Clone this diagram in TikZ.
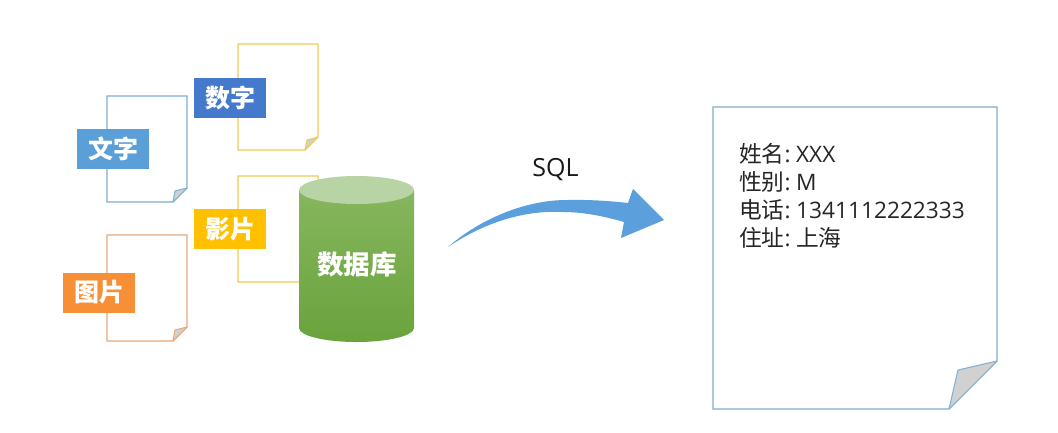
\documentclass[tikz,border=0pt]{standalone}
\usepackage{fontspec}
\setmainfont{Open Sans}
\newfontfamily\cjk{Noto Sans CJK SC}
\usetikzlibrary{shadings}
\definecolor{pgblue}{HTML}{7FAFD3}
\definecolor{pgyellow}{HTML}{F1CB50}
\definecolor{pgorange}{HTML}{E9A772}
\definecolor{arrowblue}{HTML}{5B9FDC}
\definecolor{tagsky}{HTML}{5B9FD9}
\definecolor{tagblue}{HTML}{4579CC}
\definecolor{taggold}{HTML}{FFC000}
\definecolor{tagorange}{HTML}{F68F35}
\definecolor{cyltop}{HTML}{B8D3A4}
\definecolor{cylhigh}{HTML}{86B65E}
\definecolor{cyllow}{HTML}{6AA33C}
\tikzset{
  x=1pt,y=-1pt,
  paper/.style={fill=white,line width=1.2pt,line join=miter},
  foldflap/.style={fill=black!18,line width=1pt,line join=round},
  tag/.style={minimum width=72pt,minimum height=40pt,inner sep=0pt,text=white,font=\fontsize{25}{25}\selectfont\cjk\bfseries},
  record/.style={anchor=west,inner sep=0pt,text=black!85,font=\fontsize{22.7}{24}\selectfont},
}
\newcommand{\recsep}{:\hspace{5.5pt}}
\newcommand{\taglabel}[1]{\raisebox{1.2pt}{#1}}
% #1 colour, #2 left, #3 top, #4 width, #5 height, #6 fold size, #7 flap x offset, #8 flap y offset
\newcommand{\docpage}[8]{%
  \draw[paper,draw=#1] (#2,#3) -- (#2+#4,#3) -- (#2+#4,#3+#5-#6) -- (#2+#4-#6,#3+#5) -- (#2,#3+#5) -- cycle;
  \draw[foldflap,draw=#1] (#2+#4,#3+#5-#6) -- (#2+#4-#6+#7,#3+#5-#6+#8) -- (#2+#4-#6,#3+#5) -- cycle;
}
\begin{document}
\begin{tikzpicture}
\useasboundingbox (0,0) rectangle (1058,432);
\fill[white] (0,0) rectangle (1058,432);
% small pages
\docpage{pgyellow}{238}{44}{80}{106}{13}{2}{3}
\docpage{pgblue}{107}{96}{80}{106}{14}{2}{3}
\docpage{pgyellow}{238}{176}{80}{106}{13}{2}{3}
\docpage{pgorange}{107}{235}{80}{106}{14}{2}{3}
% tags
\node[tag,fill=tagsky] (wenzi) at (113,149) {\taglabel{文字}};
\node[tag,fill=tagblue] (shuzi) at (230,97.5) {\taglabel{数字}};
\node[tag,fill=taggold] (yingpian) at (230,229) {\taglabel{影片}};
\node[tag,fill=tagorange] (tupian) at (99,292.5) {\taglabel{图片}};
% cylinder soft shadow
\foreach \g in {5,3,1.5}{
  \fill[black,opacity=0.06] (300,328) arc[start angle=180,end angle=360,x radius=56.5,y radius=14+\g] -- cycle;
}
% cylinder
\shade[top color=cylhigh,bottom color=cyllow]
  (299,190) -- (299,328) arc[start angle=180,end angle=360,x radius=57.5,y radius=-14] -- (414,190) -- cycle;
\fill[cyltop] (356.5,190) ellipse[x radius=57.5,y radius=14];
\node[inner sep=0pt,text=white,font=\fontsize{26.5}{27}\selectfont\cjk\bfseries] (db) at (357,264) {数据库};
% SQL arrow
\fill[arrowblue] (448,247)
  .. controls (480,219) and (525,200) .. (567,200)
  .. controls (590,199.5) and (610,201) .. (628,203)
  -- (633,189) -- (664,220) -- (621,238) -- (624,222)
  .. controls (600,215) and (580,212) .. (563,212)
  .. controls (525,210) and (485,222) .. (448,247) -- cycle;
\node[inner sep=0pt,text=black!90,font=\fontsize{25}{25}\selectfont] (sql) at (555.5,170) {SQL};
% large page
\docpage{pgblue}{713}{107}{284}{302}{48}{9}{9}
\node[record] (name) at (739,154) {{\cjk 姓名}\recsep XXX};
\node[record] (sex) at (739,181.5) {{\cjk 性别}\recsep M};
\node[record] (tel) at (739,209.5) {{\cjk 电话}\recsep 1341112222333};
\node[record] (addr) at (739,238) {{\cjk 住址}\recsep{\cjk 上海}};
\end{tikzpicture}
\end{document}
